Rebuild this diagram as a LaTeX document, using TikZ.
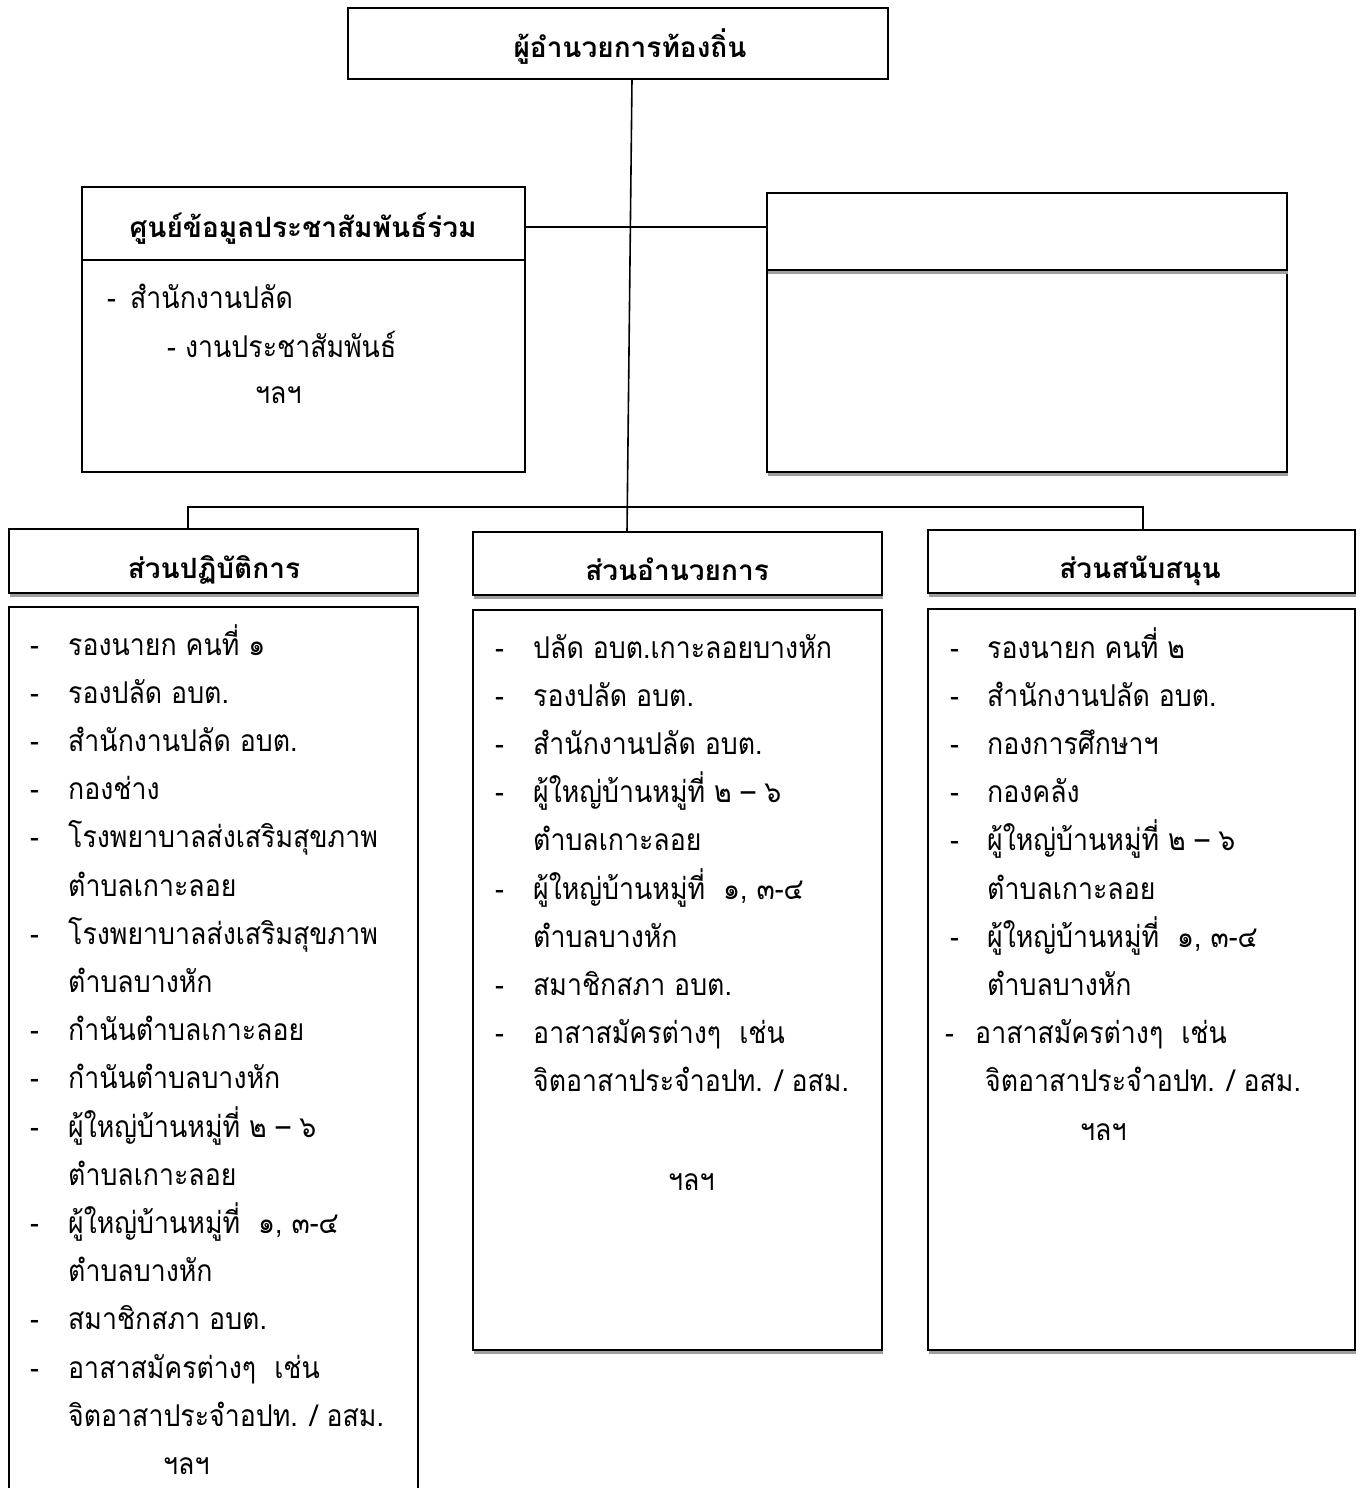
\documentclass[tikz,border=0pt]{standalone}
\usepackage{fontspec}
\newfontfamily\thai[Script=Thai]{Loma}
\newfontfamily\thain[Script=Thai,FakeStretch=0.89]{Loma}
\usetikzlibrary{shadows}
\newcommand{\bodysz}{\fontsize{30}{34}\selectfont}
\newcommand{\titlesz}{\fontsize{28}{32}\selectfont}
\tikzset{
  box/.style={draw=black, line width=1.8pt, inner sep=0pt, outer sep=0pt, anchor=north west, fill=white},
  shbox/.style={box, drop shadow={shadow xshift=1pt, shadow yshift=-3.5pt, fill=black!38, opacity=1}},
  conn/.style={draw=black, line width=1.6pt},
  txt/.style={inner sep=0pt, anchor=base west, font=\thain\bodysz},
  ttl/.style={inner sep=0pt, anchor=base, font=\thai\bfseries\titlesz}
}
\begin{document}
\begin{tikzpicture}[x=1pt,y=-1pt]
\useasboundingbox (0,0) rectangle (1360,1488);
% boxes
\node[box, minimum width=540pt, minimum height=71pt] (top) at (348,8) {};
\node[box, minimum width=443pt, minimum height=212pt] (cb) at (82,260) {};
\node[box, minimum width=443pt, minimum height=73pt] (ch) at (82,187) {};
\node[shbox, minimum width=520pt, minimum height=202pt] (rb) at (767,270) {};
\node[shbox, minimum width=520pt, minimum height=77pt] (rh) at (767,193) {};
\node[shbox, minimum width=409pt, minimum height=64pt] (lh) at (9,529) {};
\node[shbox, minimum width=409pt, minimum height=890pt] (lb) at (9,607) {};
\node[shbox, minimum width=409pt, minimum height=63pt] (mh) at (473,532) {};
\node[shbox, minimum width=409pt, minimum height=740pt] (mb) at (473,610) {};
\node[shbox, minimum width=427pt, minimum height=63pt] (sh) at (928,530) {};
\node[shbox, minimum width=427pt, minimum height=741pt] (sb) at (928,609) {};
% connectors
\draw[conn] ([xshift=14pt]top.south) -- ([xshift=-50.5pt]mh.north);
\draw[conn] ([yshift=-3.5pt]ch.east) -- ([yshift=4.5pt]rh.west);
\draw[conn] ([xshift=-25.5pt]lh.north) -- ++(0,-22) -| ([xshift=1.5pt]sh.north);
% titles
\node[ttl] (t0) at (630,58) {ผู้อำนวยการท้องถิ่น};
\node[ttl] (t1) at (303,237) {ศูนย์ข้อมูลประชาสัมพันธ์ร่วม};
\node[ttl] (t2) at (214,578) {ส่วนปฏิบัติการ};
\node[ttl] (t3) at (677,580) {ส่วนอำนวยการ};
\node[ttl] (t4) at (1140,578) {ส่วนสนับสนุน};
% centre box body
\node[txt] (c0d) at (107,308) {-};
\node[txt] (c0) at (130,308) {สำนักงานปลัด};
\node[txt] (c1d) at (167,357) {-};
\node[txt] (c1) at (185,357) {งานประชาสัมพันธ์};
\node[txt] (c2) at (255,403) {ฯลฯ};
% left column
\foreach \d/\t [count=\i from 0] in {
  1/{รองนายก คนที่ ๑},
  1/{รองปลัด อบต.},
  1/{สำนักงานปลัด อบต.},
  1/{กองช่าง},
  1/{โรงพยาบาลส่งเสริมสุขภาพ},
  0/{ตำบลเกาะลอย},
  1/{โรงพยาบาลส่งเสริมสุขภาพ},
  0/{ตำบลบางหัก},
  1/{กำนันตำบลเกาะลอย},
  1/{กำนันตำบลบางหัก},
  1/{ผู้ใหญ่บ้านหมู่ที่ ๒ – ๖},
  0/{ตำบลเกาะลอย},
  1/{ผู้ใหญ่บ้านหมู่ที่\ \ ๑, ๓-๔},
  0/{ตำบลบางหัก},
  1/{สมาชิกสภา อบต.},
  1/{อาสาสมัครต่างๆ\ \ เช่น},
  0/{จิตอาสาประจำอปท. / อสม.}}{
  \node[txt] (l\i) at (68,655+48.2*\i) {\t};
  \ifnum\d=1 \node[txt] (ld\i) at (30,655+48.2*\i) {-};\fi
}
\node[txt] (lx) at (163,1474) {ฯลฯ};
% middle column
\foreach \d/\t [count=\i from 0] in {
  1/{ปลัด อบต.เกาะลอยบางหัก},
  1/{รองปลัด อบต.},
  1/{สำนักงานปลัด อบต.},
  1/{ผู้ใหญ่บ้านหมู่ที่ ๒ – ๖},
  0/{ตำบลเกาะลอย},
  1/{ผู้ใหญ่บ้านหมู่ที่\ \ ๑, ๓-๔},
  0/{ตำบลบางหัก},
  1/{สมาชิกสภา อบต.},
  1/{อาสาสมัครต่างๆ\ \ เช่น},
  0/{จิตอาสาประจำอปท. / อสม.}}{
  \node[txt] (m\i) at (533,658+48.2*\i) {\t};
  \ifnum\d=1 \node[txt] (md\i) at (495,658+48.2*\i) {-};\fi
}
\node[txt] (mx) at (668,1190) {ฯลฯ};
% right column
\foreach \d/\t [count=\i from 0] in {
  1/{รองนายก คนที่ ๒},
  1/{สำนักงานปลัด อบต.},
  1/{กองการศึกษาฯ},
  1/{กองคลัง},
  1/{ผู้ใหญ่บ้านหมู่ที่ ๒ – ๖},
  0/{ตำบลเกาะลอย},
  1/{ผู้ใหญ่บ้านหมู่ที่\ \ ๑, ๓-๔},
  0/{ตำบลบางหัก}}{
  \node[txt] (s\i) at (987,658+48.2*\i) {\t};
  \ifnum\d=1 \node[txt] (sd\i) at (950,658+48.2*\i) {-};\fi
}
\node[txt] (sd8) at (945,1043.6) {-};
\node[txt] (s8) at (975,1043.6) {อาสาสมัครต่างๆ\ \ เช่น};
\node[txt] (s9) at (985,1091.8) {จิตอาสาประจำอปท. / อสม.};
\node[txt] (sx) at (1080,1140) {ฯลฯ};
\end{tikzpicture}
\end{document}
